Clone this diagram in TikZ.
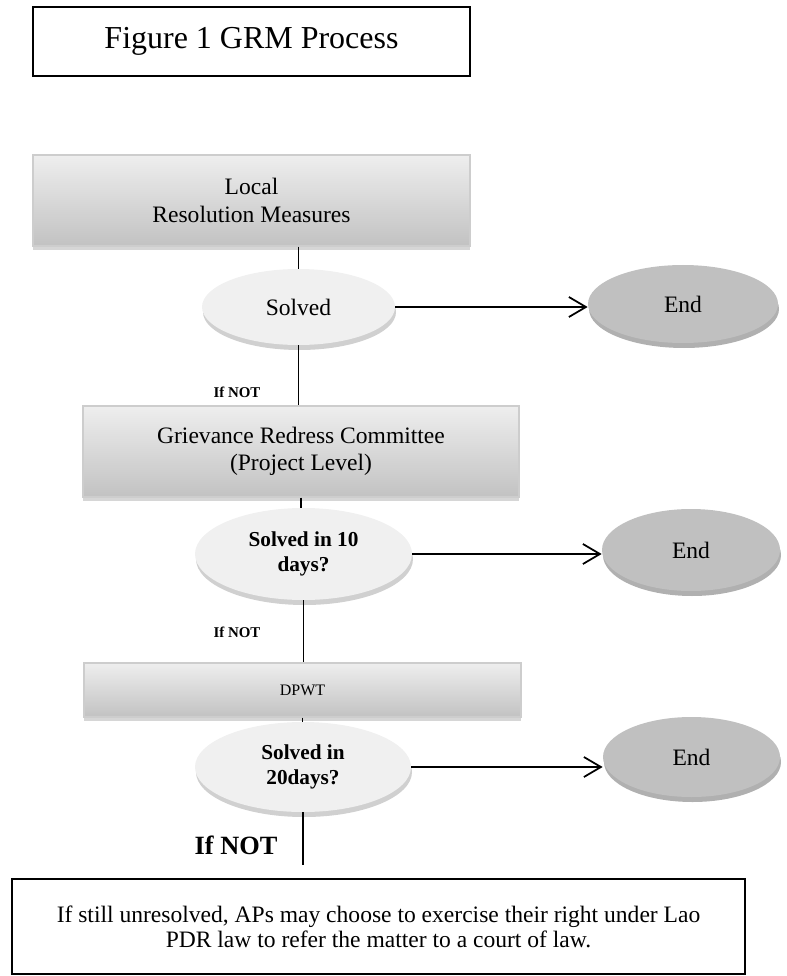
\documentclass[tikz,border=0pt]{standalone}
\usepackage{fontspec}
\setmainfont{Liberation Serif}
\usepackage{tikz}
\usetikzlibrary{positioning, arrows.meta, shapes.geometric, shadows}

\begin{document}
\begin{tikzpicture}[every node/.style={font=\fontsize{13.4}{15.5}\selectfont},
    stagebox/.style={draw=boxedge, line width=0.6pt, top color=boxtop, bottom color=boxbottom, align=center,
        drop shadow={shadow xshift=0cm, shadow yshift=-0.08cm, fill=boxshade, opacity=1}},
    checkoval/.style={ellipse, fill=checkfill, inner sep=0pt, align=center,
        drop shadow={shadow xshift=0.02cm, shadow yshift=-0.1cm, fill=checkshade, opacity=1}},
    endoval/.style={ellipse, fill=endfill, inner sep=0pt, align=center,
        drop shadow={shadow xshift=0.02cm, shadow yshift=-0.1cm, fill=endshade, opacity=1}},
    askfont/.style={font=\bfseries\fontsize{12.1}{14.2}\selectfont},
    ifnot/.style={font=\bfseries\fontsize{8.5}{10}\selectfont},
    link/.style={line width=1pt},
    flow/.style={line width=1pt, -{Straight Barb[length=3.4mm, width=4mm, line width=1pt]}}]
    \useasboundingbox (0,0) rectangle (15.74,-19.52);

    % Define colors
    \definecolor{boxtop}{RGB}{238,238,238}
    \definecolor{boxbottom}{RGB}{194,194,194}
    \definecolor{boxedge}{RGB}{205,205,205}
    \definecolor{boxshade}{RGB}{214,214,214}
    \definecolor{checkfill}{RGB}{240,240,240}
    \definecolor{checkshade}{RGB}{208,208,208}
    \definecolor{endfill}{RGB}{192,192,192}
    \definecolor{endshade}{RGB}{176,176,176}

    % Title
    \node[draw, line width=1.1pt, minimum width=8.74cm, minimum height=1.38cm, font=\fontsize{18.2}{21}\selectfont] (title) at (5.03,-0.83) {Figure 1 GRM Process};

    % Local level
    \node[stagebox, minimum width=8.74cm, minimum height=1.82cm] (local) at (5.03,-4.01) {Local\\Resolution Measures};
    \node[checkoval, minimum width=3.86cm, minimum height=1.52cm] (solved) at (5.97,-6.14) {Solved};
    \node[endoval, minimum width=3.8cm, minimum height=1.56cm] (end1) at (13.66,-6.08) {End};
    \node[ifnot] (ifnot1) at (4.74,-7.84) {If NOT};

    % Project level committee
    \node[stagebox, minimum width=8.72cm, minimum height=1.82cm] (grc) at (6.02,-9.03) {Grievance Redress Committee\\(Project Level)};
    \node[checkoval, askfont, minimum width=4.34cm, minimum height=1.84cm] (tenday) at (6.07,-11.08) {Solved in 10\\days?};
    \node[endoval, minimum width=3.56cm, minimum height=1.64cm] (end2) at (13.82,-11.0) {End};
    \node[ifnot] (ifnot2) at (4.74,-12.64) {If NOT};

    % DPWT
    \node[stagebox, minimum width=8.74cm, minimum height=1.08cm, font=\fontsize{9.1}{11}\selectfont] (dpwt) at (6.05,-13.8) {DPWT};
    \node[checkoval, askfont, minimum width=4.32cm, minimum height=1.8cm] (twentyday) at (6.06,-15.34) {Solved in\\20days?};
    \node[endoval, minimum width=3.54cm, minimum height=1.6cm] (end3) at (13.83,-15.14) {End};
    \node[ifnot, font=\bfseries\fontsize{15}{18}\selectfont] (ifnot3) at (4.72,-16.9) {If NOT};
    \coordinate (tail) at (6.06,-17.3);

    % Court
    \node[draw, line width=1.1pt, minimum width=14.66cm, minimum height=1.9cm, align=center, font=\fontsize{13.4}{14.2}\selectfont] (court) at (7.57,-18.53)
        {If still unresolved, APs may choose to exercise their right under Lao\\PDR law to refer the matter to a court of law.};

    % Connectors
    \draw[link] (solved.north |- local.south) -- (solved.north);
    \draw[flow] (solved.east) -- (solved.east -| end1.west);
    \draw[link] (solved.south) -- (solved.south |- grc.north);
    \draw[link] (grc.south) -- (grc.south |- tenday.north);
    \draw[flow] (tenday.east) -- (tenday.east -| end2.west);
    \draw[link] (tenday.south) -- (tenday.south |- dpwt.north);
    \draw[link] (dpwt.south) -- (dpwt.south |- twentyday.north);
    \draw[flow] (twentyday.east) -- (twentyday.east -| end3.west);
    \draw[link] (twentyday.south) -- (tail);
\end{tikzpicture}
\end{document}
